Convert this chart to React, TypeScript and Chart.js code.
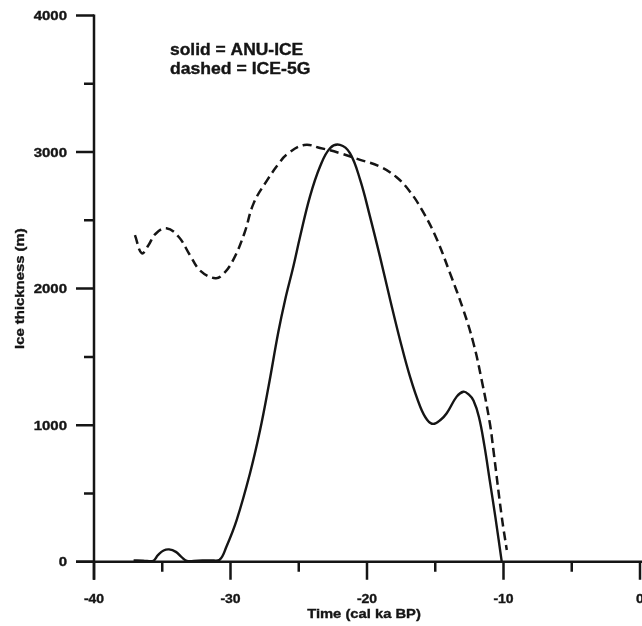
import React, { useEffect, useRef } from "react";
import { Chart, registerables } from "chart.js";

Chart.register(...registerables);

// ANU-ICE (solid)
const anuIceX = [-37.1, -36.4, -35.7, -35.3, -34.9, -34.5, -34.0, -33.6, -33.2, -32.4, -31.5, -30.8, -30.3, -29.55, -28.57, -27.84, -27.2, -26.5, -26.0, -25.4, -24.9, -24.18, -23.44, -22.71, -21.98, -21.25, -20.5, -19.78, -19.05, -18.3, -17.58, -16.85, -16.1, -15.6, -15.14, -14.6, -14.16, -13.43, -12.94, -12.55, -12.2, -11.8, -11.4, -11.0, -10.6, -10.13];
const anuIceY = [10, 8, 4, 50, 82, 90, 72, 35, 6, 8, 10, 14, 110, 305, 648, 960, 1290, 1680, 1917, 2160, 2381, 2674, 2894, 3028, 3053, 2992, 2796, 2527, 2234, 1917, 1624, 1355, 1135, 1040, 1009, 1040, 1087, 1209, 1245, 1225, 1180, 1060, 850, 590, 330, 0];

// ICE-5G (dashed)
const ice5gX = [-37.0, -36.5, -36.0, -35.5, -34.7, -33.8, -33.0, -32.2, -31.1, -30.5, -29.8, -29.0, -28.3, -27.3, -26.5, -25.9, -24.6, -23.44, -21.98, -20.5, -19.05, -17.83, -16.85, -15.88, -14.9, -13.92, -12.94, -12.2, -11.6, -11.0, -10.74, -10.13, -9.76];
const ice5gY = [2392, 2259, 2320, 2400, 2442, 2380, 2250, 2130, 2076, 2110, 2210, 2400, 2626, 2796, 2910, 2980, 3052, 3030, 2992, 2943, 2894, 2815, 2710, 2560, 2365, 2113, 1844, 1600, 1331, 1014, 818, 330, 86];

const xMajorTicks = [-40, -30, -20, -10, 0];
const xMinorTicks = [-35, -25, -15, -5];
const yMajorTicks = [0, 1000, 2000, 3000, 4000];
const yMinorTicks = [500, 1500, 2500, 3500];
const xTickLabels = ["-40", "-30", "-20", "-10", "0"];
const yTickLabels = ["0", "1000", "2000", "3000", "4000"];
const xTitle = "Time (cal ka BP)";
const yTitle = "Ice thickness (m)";
const legendLines = ["solid = ANU-ICE", "dashed = ICE-5G"];

const FONT = '"Liberation Sans", Arial, Helvetica, sans-serif';
const INK = "#151515";

function drawText(
  ctx: CanvasRenderingContext2D,
  text: string,
  x: number,
  y: number,
  align: CanvasTextAlign,
  stretch: number,
  size: number,
  rotate = 0
) {
  ctx.save();
  ctx.translate(x, y);
  if (rotate) ctx.rotate(rotate);
  ctx.scale(stretch, 1);
  ctx.font = `bold ${size}px ${FONT}`;
  ctx.fillStyle = INK;
  ctx.strokeStyle = INK;
  ctx.lineWidth = 0.35;
  ctx.textAlign = align;
  ctx.textBaseline = "alphabetic";
  ctx.fillText(text, 0, 0);
  ctx.strokeText(text, 0, 0);
  ctx.restore();
}

const axesPlugin = {
  id: "customAxes",
  afterDraw(chart: any) {
    const ctx: CanvasRenderingContext2D = chart.ctx;
    const xs = chart.scales.x;
    const ys = chart.scales.y;
    const x0 = xs.getPixelForValue(-40);
    const y0 = ys.getPixelForValue(0);
    const yTop = ys.getPixelForValue(4000);
    const major = 18;
    const minor = 10;

    ctx.save();
    ctx.strokeStyle = INK;
    ctx.lineWidth = 2.5;
    ctx.lineCap = "butt";
    ctx.beginPath();
    ctx.moveTo(x0, yTop - 1);
    ctx.lineTo(x0, y0 + major);
    ctx.moveTo(x0 - major, y0);
    ctx.lineTo(chart.width, y0);
    ctx.stroke();

    ctx.beginPath();
    yMajorTicks.forEach((v) => {
      const p = ys.getPixelForValue(v);
      ctx.moveTo(x0 - major, p);
      ctx.lineTo(x0, p);
    });
    yMinorTicks.forEach((v) => {
      const p = ys.getPixelForValue(v);
      ctx.moveTo(x0 - minor, p);
      ctx.lineTo(x0, p);
    });
    xMajorTicks.forEach((v) => {
      const p = xs.getPixelForValue(v);
      ctx.moveTo(p, y0);
      ctx.lineTo(p, y0 + major);
    });
    xMinorTicks.forEach((v) => {
      const p = xs.getPixelForValue(v);
      ctx.moveTo(p, y0);
      ctx.lineTo(p, y0 + minor);
    });
    ctx.stroke();
    ctx.restore();

    yMajorTicks.forEach((v, i) => {
      drawText(ctx, yTickLabels[i], x0 - 27, ys.getPixelForValue(v) + 4.5, "right", 1.2, 12.5);
    });
    xMajorTicks.forEach((v, i) => {
      drawText(ctx, xTickLabels[i], xs.getPixelForValue(v), y0 + 41, "center", 1.12, 12.5);
    });

    drawText(ctx, xTitle, (xs.left + xs.right) / 2 - 3, y0 + 56.5, "center", 1.18, 12.5);
    drawText(ctx, yTitle, 23.5, (ys.top + ys.bottom) / 2, "center", 1.19, 12.5, -Math.PI / 2);

    drawText(ctx, legendLines[0], 170, 55, "left", 1.09, 16);
    drawText(ctx, legendLines[1], 170, 74, "left", 1.1, 16);
  },
};

export default function App() {
  const canvasRef = useRef<HTMLCanvasElement | null>(null);

  useEffect(() => {
    const canvas = canvasRef.current;
    if (!canvas) return;
    const chart = new Chart(canvas, {
      type: "scatter",
      data: {
        datasets: [
          {
            label: "ANU-ICE",
            data: anuIceX.map((x, i) => ({ x, y: anuIceY[i] })),
            showLine: true,
            borderColor: INK,
            borderWidth: 2.4,
            pointRadius: 0,
            tension: 0.4,
            clip: false as any,
          },
          {
            label: "ICE-5G",
            data: ice5gX.map((x, i) => ({ x, y: ice5gY[i] })),
            showLine: true,
            borderColor: INK,
            borderWidth: 2.5,
            borderDash: [9, 5],
            pointRadius: 0,
            tension: 0.4,
            clip: false as any,
          },
        ],
      },
      options: {
        animation: false,
        responsive: false,
        devicePixelRatio: 1,
        layout: { padding: { left: 94, top: 15.5, right: 2, bottom: 64.3 } },
        plugins: {
          legend: { display: false },
          tooltip: { enabled: false },
        },
        scales: {
          x: { type: "linear", min: -40, max: 0, display: false },
          y: { type: "linear", min: 0, max: 4000, display: false },
        },
      },
      plugins: [axesPlugin],
    });
    return () => chart.destroy();
  }, []);

  return (
    <div style={{ position: "fixed", left: 0, top: 0, width: 642, height: 626, background: "#fff" }}>
      <canvas ref={canvasRef} width={642} height={626} style={{ display: "block" }} />
    </div>
  );
}
